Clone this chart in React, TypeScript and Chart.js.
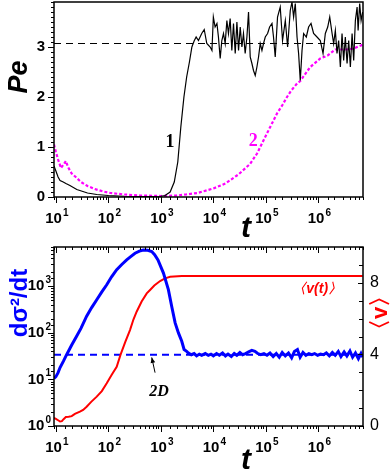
import React, { useEffect, useRef } from "react";
import { Chart, registerables } from "chart.js";

Chart.register(...registerables);

// ---------------- data ----------------
const tMin = 9.2;
const tMax = 7.1e6;
const peMax = 3.9;
const peRefLevel = 3.07;

// curve 1 (black, solid)
const pe1T = [9.2, 10, 11, 12, 13.8, 15.5, 18.5, 25, 40, 60, 100, 200, 500, 1000, 1200, 1500, 1800, 2100, 2400, 2750, 3100, 3500, 3900, 4300, 4700, 5200, 6000, 6700, 7500, 8700, 9400, 10000, 10800, 11700, 12500, 13500, 14500, 15600, 16800, 18100, 19400, 20900, 22500, 24200, 26100, 28100, 30200, 32500, 35000, 37500, 40400, 43600, 46800, 50400, 54300, 58200, 62800, 67600, 72600, 78200, 84300, 90400, 97500, 108000, 118000, 131000, 140000, 151000, 167000, 188000, 208000, 235000, 260000, 292000, 315000, 338000, 364000, 393000, 421000, 453000, 489000, 525000, 590000, 653000, 726000, 813000, 944000, 1090000, 1230000, 1360000, 1510000, 1650000, 1830000, 1960000, 2110000, 2270000, 2440000, 2630000, 2830000, 3040000, 3270000, 3530000, 3790000, 4080000, 4400000, 4720000, 5080000, 5480000, 5730000, 6140000, 6530000, 7000000];
const pe1V = [0.62, 0.52, 0.4, 0.33, 0.3, 0.27, 0.23, 0.15, 0.08, 0.05, 0.03, 0.015, 0.01, 0.015, 0.03, 0.1, 0.3, 0.7, 1.4, 2.0, 2.4, 2.7, 3.0, 3.12, 3.2, 3.13, 3.27, 3.35, 3.07, 3.0, 2.93, 3.6, 3.4, 3.47, 3.2, 2.77, 3.13, 3.27, 3.07, 3.53, 3.27, 3.57, 2.93, 3.47, 2.87, 3.5, 2.93, 3.4, 3.0, 3.27, 2.87, 3.2, 3.7, 2.8, 2.67, 2.53, 2.43, 2.6, 2.8, 3.07, 2.93, 3.07, 3.2, 3.27, 3.4, 3.47, 3.2, 2.8, 3.6, 3.8, 3.13, 3.53, 3.0, 3.73, 3.9, 3.6, 3.87, 3.2, 2.87, 2.33, 2.93, 3.27, 3.2, 3.4, 3.47, 3.27, 3.2, 3.13, 2.87, 3.27, 3.4, 3.6, 3.27, 3.07, 3.33, 2.87, 3.13, 2.6, 3.27, 2.73, 3.2, 2.67, 3.13, 2.6, 3.27, 2.73, 3.53, 3.8, 3.33, 3.87, 3.53, 3.7];

// curve 2 (magenta, dotted)
const pe2T = [9.2, 10, 11, 12.5, 14, 15.5, 17, 20, 25, 30, 40, 55, 80, 110, 200, 400, 1000, 2000, 3000, 5000, 10000, 17000, 30000, 50000, 68000, 105000, 163000, 210000, 253000, 300000, 393000, 453000, 700000, 1090000, 1500000, 2100000, 3500000, 4700000, 6500000, 7000000];
const pe2V = [1.05, 0.9, 0.75, 0.58, 0.65, 0.72, 0.6, 0.47, 0.38, 0.3, 0.22, 0.16, 0.11, 0.08, 0.05, 0.03, 0.02, 0.03, 0.05, 0.08, 0.17, 0.27, 0.45, 0.66, 0.87, 1.27, 1.67, 1.85, 2.0, 2.12, 2.27, 2.32, 2.6, 2.77, 2.83, 2.95, 2.95, 2.97, 3.03, 3.05];

// bottom panel: d sigma^2 / dt (blue, left log axis)
const blueT = [9.2, 10, 11, 12, 14, 16, 20, 24.8, 30, 38.5, 48, 60, 75, 93, 115, 144, 180, 223, 270, 322, 390, 464, 560, 670, 760, 880, 1120, 1390, 1610, 1870, 2160, 2500, 2770, 3100, 3350, 3800, 4300, 4800, 5400, 6000, 7000, 8000, 9000, 10000, 11500, 13000, 15000, 17000, 19000, 22000, 25000, 28000, 32000, 36000, 41000, 47000, 54000, 62000, 70000, 80000, 92000, 105000, 120000, 138000, 158000, 180000, 205000, 235000, 270000, 310000, 350000, 400000, 450000, 510000, 580000, 660000, 750000, 850000, 970000, 1100000, 1250000, 1420000, 1620000, 1850000, 2100000, 2400000, 2700000, 3100000, 3500000, 4000000, 4500000, 5100000, 5800000, 6500000, 7000000];
const blueV = [10.5, 11.5, 14, 18, 25, 34, 55, 85, 125, 228, 350, 516, 760, 1080, 1600, 2280, 2950, 3700, 4400, 5140, 5700, 6050, 5950, 5600, 4800, 3700, 1930, 850, 370, 164, 100, 66, 44, 40, 37, 34, 36, 32, 35, 33, 36, 33, 35, 32, 36, 33, 37, 32, 35, 31, 36, 33, 38, 34, 36, 39, 42, 40, 36, 34, 36, 33, 37, 31, 36, 30, 38, 32, 37, 29, 40, 44, 30, 38, 33, 36, 34, 36, 33, 35, 34, 37, 32, 38, 33, 40, 31, 39, 32, 41, 30, 37, 28, 36, 30];
const twoDLevel = 34;

// <v(t)> (red, right linear axis)
const redT = [9.2, 10, 11, 12, 13, 14, 15.5, 17.5, 20, 23, 28.7, 33, 38.5, 47, 60, 75, 93, 115, 144, 170, 210, 258, 300, 347, 430, 538, 622, 750, 966, 1200, 1500, 2500, 7000000];
const redV = [0.45, 0.4, 0.32, 0.25, 0.27, 0.38, 0.5, 0.52, 0.55, 0.68, 0.8, 0.9, 1.08, 1.35, 1.64, 1.95, 2.39, 2.85, 3.31, 3.97, 4.7, 5.36, 5.95, 6.4, 6.95, 7.41, 7.6, 7.85, 8.1, 8.25, 8.34, 8.38, 8.38];

const sigMin = 1;
const sigMax = 7000;
const vMin = 0;
const vMax = 10;
const vLabelled = [0, 4, 8];

// ---------------- helpers ----------------
const SANS = '"Liberation Sans", Arial, sans-serif';
const SERIF = '"Liberation Serif", "Times New Roman", serif';

function isPow10(v: number) {
  const e = Math.log10(v);
  return Math.abs(e - Math.round(e)) < 1e-9;
}
function isInt(v: number) {
  return Math.abs(v - Math.round(v)) < 1e-6;
}
function pts(xs: number[], ys: number[]) {
  return xs.map((x, i) => ({ x, y: ys[i] }));
}

// draws "10" with a raised exponent; anchor: 'center' (x = centre) or 'right' (x = right edge)
function drawPow(ctx: any, exp: number, x: number, y: number, anchor: "center" | "right") {
  const base = "10";
  const e = String(exp);
  ctx.font = `bold 15px ${SANS}`;
  const wb = ctx.measureText(base).width;
  ctx.font = `bold 10px ${SANS}`;
  const we = ctx.measureText(e).width;
  const total = wb + we + 1;
  const x0 = anchor === "center" ? x - total / 2 : x - total;
  ctx.textAlign = "left";
  ctx.textBaseline = "middle";
  ctx.fillStyle = "#000";
  ctx.font = `bold 15px ${SANS}`;
  ctx.fillText(base, x0, y);
  ctx.font = `bold 10px ${SANS}`;
  ctx.fillText(e, x0 + wb + 1, y - 6);
}

type TickSpec = {
  scale: string;
  side: "bottom" | "top" | "left" | "right";
  dir: number;
  major: (v: number) => boolean;
  majorLen: number;
  minorLen: number;
  powLabels?: boolean;
};

function framePlugin(specs: TickSpec[], annotate: (chart: any) => void) {
  return {
    id: "frameTicks",
    afterDraw(chart: any) {
      const ctx = chart.ctx;
      const a = chart.chartArea;
      ctx.save();
      ctx.strokeStyle = "#000";
      ctx.lineWidth = 1;
      for (const s of specs) {
        const sc = chart.scales[s.scale];
        for (const t of sc.ticks) {
          const raw = sc.getPixelForValue(t.value);
          const p = Math.round(raw) + 0.5;
          const maj = s.major(t.value);
          const len = maj ? s.majorLen : s.minorLen;
          ctx.beginPath();
          if (s.side === "bottom") {
            ctx.moveTo(p, a.bottom);
            ctx.lineTo(p, a.bottom + s.dir * len);
          } else if (s.side === "top") {
            ctx.moveTo(p, a.top);
            ctx.lineTo(p, a.top + s.dir * len);
          } else if (s.side === "left") {
            ctx.moveTo(a.left, p);
            ctx.lineTo(a.left + s.dir * len, p);
          } else {
            ctx.moveTo(a.right, p);
            ctx.lineTo(a.right + s.dir * len, p);
          }
          ctx.stroke();
          if (s.powLabels && maj) {
            const e = Math.round(Math.log10(t.value));
            if (s.side === "bottom") drawPow(ctx, e, raw + 1, a.bottom + 22, "center");
            else if (s.side === "left") drawPow(ctx, e, a.left - 3, raw, "right");
          }
        }
      }
      ctx.lineWidth = 1.5;
      ctx.strokeRect(a.left, a.top, a.right - a.left, a.bottom - a.top);
      ctx.restore();
      ctx.save();
      annotate(chart);
      ctx.restore();
    },
  };
}

function rotText(ctx: any, text: string, x: number, y: number) {
  ctx.save();
  ctx.translate(x, y);
  ctx.rotate(-Math.PI / 2);
  ctx.textAlign = "center";
  ctx.textBaseline = "middle";
  ctx.fillText(text, 0, 0);
  ctx.restore();
}

const noGrid = { display: false, drawTicks: false };

// ---------------- configs ----------------
function topConfig(): any {
  return {
    type: "line",
    data: {
      datasets: [
        { data: pts(pe1T, pe1V), borderColor: "#000", borderWidth: 1.2, pointRadius: 0, tension: 0 },
        { data: pts(pe2T, pe2V), borderColor: "#ff00ff", borderWidth: 2.2, borderDash: [3, 2], pointRadius: 0, tension: 0 },
        { data: [{ x: tMin, y: peRefLevel }, { x: tMax, y: peRefLevel }], borderColor: "#000", borderWidth: 1.2, borderDash: [7, 5], pointRadius: 0 },
      ],
    },
    options: {
      responsive: false,
      animation: false,
      devicePixelRatio: 1,
      events: [],
      layout: { padding: { left: 0, right: 28, top: 2, bottom: 0 } },
      plugins: { legend: { display: false }, tooltip: { enabled: false }, title: { display: false } },
      scales: {
        x: {
          type: "logarithmic",
          position: "bottom",
          min: tMin,
          max: tMax,
          grid: noGrid,
          border: { display: false },
          ticks: { display: false, autoSkip: false, maxRotation: 0 },
          afterFit(s: any) {
            s.height = 43;
            s.paddingLeft = 0;
            s.paddingRight = 0;
          },
        },
        y: {
          type: "linear",
          position: "left",
          min: 0,
          max: peMax,
          grid: noGrid,
          border: { display: false },
          ticks: {
            stepSize: 0.1,
            autoSkip: false,
            padding: 9,
            color: "#000",
            font: { family: SANS, size: 15, weight: "bold" },
            callback: (v: any) => (isInt(Number(v)) ? String(Math.round(Number(v))) : ""),
          },
          afterFit(s: any) {
            s.width = 54;
            s.paddingTop = 0;
            s.paddingBottom = 0;
          },
        },
      },
    },
    plugins: [
      framePlugin(
        [
          { scale: "x", side: "bottom", dir: 1, major: isPow10, majorLen: 6, minorLen: 3, powLabels: true },
          { scale: "y", side: "left", dir: -1, major: isInt, majorLen: 6, minorLen: 3 },
        ],
        (chart: any) => {
          const ctx = chart.ctx;
          const xs = chart.scales.x;
          const ys = chart.scales.y;
          ctx.fillStyle = "#000";
          ctx.font = `italic bold 27px ${SANS}`;
          rotText(ctx, "Pe", 20, 77);
          ctx.textAlign = "center";
          ctx.textBaseline = "alphabetic";
          ctx.font = `italic bold 30px ${SANS}`;
          ctx.fillText("t", 246, 237);
          ctx.textBaseline = "middle";
          ctx.font = `bold 18px ${SERIF}`;
          ctx.fillText("1", xs.getPixelForValue(1500), ys.getPixelForValue(1.09));
          ctx.fillStyle = "#ff00ff";
          ctx.fillText("2", xs.getPixelForValue(57500), ys.getPixelForValue(1.11));
        }
      ),
    ],
  };
}

function bottomConfig(): any {
  return {
    type: "line",
    data: {
      datasets: [
        { data: pts(blueT, blueV), yAxisID: "yL", borderColor: "#0000ff", borderWidth: 3, pointRadius: 0, tension: 0 },
        { data: pts(redT, redV), yAxisID: "yR", borderColor: "#ff0000", borderWidth: 2, pointRadius: 0, tension: 0 },
        { data: [{ x: tMin, y: twoDLevel }, { x: tMax, y: twoDLevel }], yAxisID: "yL", borderColor: "#0000ff", borderWidth: 2, borderDash: [7, 5], pointRadius: 0 },
      ],
    },
    options: {
      responsive: false,
      animation: false,
      devicePixelRatio: 1,
      events: [],
      layout: { padding: { left: 0, right: 0, top: 11, bottom: 0 } },
      plugins: { legend: { display: false }, tooltip: { enabled: false }, title: { display: false } },
      scales: {
        x: {
          type: "logarithmic",
          position: "bottom",
          min: tMin,
          max: tMax,
          grid: noGrid,
          border: { display: false },
          ticks: { display: false, autoSkip: false, maxRotation: 0 },
          afterFit(s: any) {
            s.height = 44;
            s.paddingLeft = 0;
            s.paddingRight = 0;
          },
        },
        yL: {
          type: "logarithmic",
          position: "left",
          min: sigMin,
          max: sigMax,
          grid: noGrid,
          border: { display: false },
          ticks: { display: false, autoSkip: false },
          afterFit(s: any) {
            s.width = 54;
            s.paddingTop = 0;
            s.paddingBottom = 0;
          },
        },
        yR: {
          type: "linear",
          position: "right",
          min: vMin,
          max: vMax,
          grid: noGrid,
          border: { display: false },
          ticks: {
            stepSize: 1,
            autoSkip: false,
            padding: 7,
            color: "#000",
            font: { family: SANS, size: 16 },
            callback: (v: any) => (vLabelled.includes(Number(v)) ? String(v) : ""),
          },
          afterFit(s: any) {
            s.width = 28;
            s.paddingTop = 0;
            s.paddingBottom = 0;
          },
        },
      },
    },
    plugins: [
      framePlugin(
        [
          { scale: "x", side: "bottom", dir: 1, major: isPow10, majorLen: 6, minorLen: 3, powLabels: true },
          { scale: "x", side: "top", dir: 1, major: isPow10, majorLen: 6, minorLen: 3 },
          { scale: "yL", side: "left", dir: -1, major: isPow10, majorLen: 6, minorLen: 3, powLabels: true },
          { scale: "yR", side: "right", dir: -1, major: (v) => vLabelled.includes(v), majorLen: 5, minorLen: 4 },
        ],
        (chart: any) => {
          const ctx = chart.ctx;
          const xs = chart.scales.x;
          const yl = chart.scales.yL;
          const yr = chart.scales.yR;
          ctx.fillStyle = "#0000ff";
          ctx.font = `bold 24px ${SANS}`;
          rotText(ctx, "dσ²/dt", 20, 67);
          ctx.fillStyle = "#ff0000";
          ctx.font = `bold 22px ${SANS}`;
          rotText(ctx, "〈v〉", 381, 77);
          ctx.textAlign = "center";
          ctx.textBaseline = "middle";
          ctx.font = `italic bold 14px ${SANS}`;
          ctx.fillText("〈v(t)〉", xs.getPixelForValue(950000), yr.getPixelForValue(7.65));
          ctx.fillStyle = "#000";
          ctx.font = `italic bold 16px ${SERIF}`;
          ctx.fillText("2D", xs.getPixelForValue(925), yl.getPixelForValue(5.5));
          // arrow
          const x1 = xs.getPixelForValue(775);
          const y1 = yl.getPixelForValue(14);
          const x2 = xs.getPixelForValue(670);
          const y2 = yl.getPixelForValue(29.7);
          ctx.strokeStyle = "#000";
          ctx.lineWidth = 1;
          ctx.beginPath();
          ctx.moveTo(x1, y1);
          ctx.lineTo(x2, y2);
          ctx.stroke();
          const ang = Math.atan2(y2 - y1, x2 - x1);
          ctx.beginPath();
          ctx.moveTo(x2, y2);
          ctx.lineTo(x2 - 6 * Math.cos(ang - 0.4), y2 - 6 * Math.sin(ang - 0.4));
          ctx.lineTo(x2 - 6 * Math.cos(ang + 0.4), y2 - 6 * Math.sin(ang + 0.4));
          ctx.closePath();
          ctx.fill();
          ctx.textAlign = "center";
          ctx.textBaseline = "alphabetic";
          ctx.font = `italic bold 30px ${SANS}`;
          ctx.fillText("t", 246, 233);
        }
      ),
    ],
  };
}

export default function App() {
  const topRef = useRef<HTMLCanvasElement>(null);
  const botRef = useRef<HTMLCanvasElement>(null);
  useEffect(() => {
    const c1 = new Chart(topRef.current as HTMLCanvasElement, topConfig());
    const c2 = new Chart(botRef.current as HTMLCanvasElement, bottomConfig());
    return () => {
      c1.destroy();
      c2.destroy();
    };
  }, []);
  return (
    <div style={{ position: "fixed", left: 0, top: 0, width: 391, height: 470, background: "#fff", overflow: "hidden" }}>
      <canvas ref={topRef} width={391} height={240} style={{ position: "absolute", left: 0, top: 0, width: 391, height: 240 }} />
      <canvas ref={botRef} width={391} height={234} style={{ position: "absolute", left: 0, top: 236, width: 391, height: 234 }} />
    </div>
  );
}
